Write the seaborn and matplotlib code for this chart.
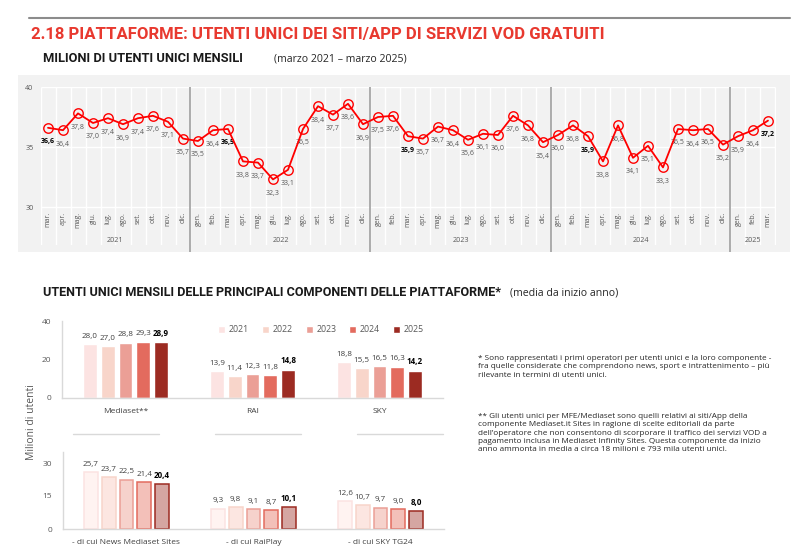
import numpy as np
import pandas as pd
import matplotlib
matplotlib.use("Agg")
import matplotlib.pyplot as plt
import seaborn as sns
from matplotlib.patches import Rectangle
from matplotlib.lines import Line2D

# --- dati: utenti unici mensili (milioni), marzo 2021 - marzo 2025 ---
nomi_mesi = ["gen.", "feb.", "mar.", "apr.", "mag.", "giu.",
             "lug.", "ago.", "set.", "ott.", "nov.", "dic."]
anni_linea = ["2021", "2022", "2023", "2024", "2025"]
mesi_per_anno = [10, 12, 12, 12, 3]
mesi = nomi_mesi[2:] + nomi_mesi * 3 + nomi_mesi[:3]

utenti = [36.6, 36.4, 37.8, 37.0, 37.4, 36.9, 37.4, 37.6, 37.1, 35.7,
          35.5, 36.4, 36.5, 33.8, 33.7, 32.3, 33.1, 36.5, 38.4, 37.7, 38.6, 36.9,
          37.5, 37.6, 35.9, 35.7, 36.7, 36.4, 35.6, 36.1, 36.0, 37.6, 36.8, 35.4,
          36.0, 36.8, 35.9, 33.8, 36.8, 34.1, 35.1, 33.3, 36.5, 36.4, 36.5, 35.2,
          35.9, 36.4, 37.2]

# --- dati: principali componenti (media da inizio anno) ---
anni = ["2021", "2022", "2023", "2024", "2025"]
operatori = ["Mediaset**", "RAI", "SKY"]
componenti = ["- di cui News Mediaset Sites", "- di cui RaiPlay", "- di cui SKY TG24"]
mediaset_tot = [28.0, 27.0, 28.8, 29.3, 28.9]
rai_tot = [13.9, 11.4, 12.3, 11.8, 14.8]
sky_tot = [18.8, 15.5, 16.5, 16.3, 14.2]
news_mediaset = [25.7, 23.7, 22.5, 21.4, 20.4]
raiplay = [9.3, 9.8, 9.1, 8.7, 10.1]
skytg24 = [12.6, 10.7, 9.7, 9.0, 8.0]

colori = ["#fce3e2", "#f8d5ca", "#eb9f96", "#e36b5e", "#9c2b22"]
chiari = ["#fff3f1", "#fce6e1", "#f6d2cc", "#f3c0b9", "#d5a6a2"]

W, H = 800, 555
HEAD = ["Roboto", "DejaVu Sans"]
GRIGIO = "#595959"


def box(x0, y0, x1, y1):
    return [x0 / W, 1 - y1 / H, (x1 - x0) / W, (y1 - y0) / H]


def virgola(v):
    return f"{v:.1f}".replace(".", ",")


sns.set_theme(style="white")
plt.rcParams["font.family"] = ["Open Sans", "DejaVu Sans"]

fig = plt.figure(figsize=(8, 5.55), dpi=100)

# intestazione
fig.add_artist(Line2D([29 / W, 790 / W], [1 - 18 / H] * 2, color="#8c8c8c", lw=1.5))
fig.text(31 / W, 1 - 34 / H, "2.18 PIATTAFORME: UTENTI UNICI DEI SITI/APP DI SERVIZI VOD GRATUITI",
         color="#e8392f", fontsize=12.1, weight="bold", family=HEAD, va="center")
fig.text(43 / W, 1 - 59 / H, "MILIONI DI UTENTI UNICI MENSILI", fontsize=9.3,
         weight="bold", family=HEAD, va="center", color="#1a1a1a")
fig.text(274 / W, 1 - 59 / H, "(marzo 2021 \u2013 marzo 2025)", fontsize=7.6,
         va="center", color="#262626")

# --- grafico a linee ---
fig.add_artist(Rectangle((18 / W, 1 - 252 / H), 772 / W, 177 / H, transform=fig.transFigure,
                         facecolor="#f2f2f2", edgecolor="none", zorder=-1))
ax1 = fig.add_axes(box(40.5, 87, 775.5, 245))
ax1.set_facecolor("#f2f2f2")


def y_at(px):
    return 40 - (px - 87) / 12


n = len(utenti)
df_linea = pd.DataFrame({"pos": np.arange(n), "utenti": utenti})
sns.lineplot(data=df_linea, x="pos", y="utenti", ax=ax1, color="#ff0000", lw=1.3,
             marker="o", markersize=6.8, markerfacecolor="none",
             markeredgecolor="#ff0000", markeredgewidth=1.0, zorder=4)

ax1.vlines(np.arange(n + 1) - 0.5, y_at(245), 40, colors="white", lw=1, zorder=1)
ax1.hlines([30, 35, 40], -0.5, n - 0.5, colors="white", lw=1, zorder=1)
confini = np.cumsum(mesi_per_anno)[:-1] - 0.5
ax1.vlines(confini, y_at(252), 40, colors="#a6a6a6", lw=1.3, clip_on=False, zorder=2)

for i, m in enumerate(mesi):
    ax1.text(i, y_at(212), m, rotation=90, ha="center", va="top", fontsize=5, color=GRIGIO)
inizio = 0
for anno, k in zip(anni_linea, mesi_per_anno):
    ax1.text(inizio + (k - 1) / 2, y_at(241), anno, ha="center", va="center",
             fontsize=5.2, color=GRIGIO)
    inizio += k

for i, v in enumerate(utenti):
    marzo = mesi[i] == "mar."
    ax1.annotate(virgola(v), (i, v), xytext=(0, -10), textcoords="offset points",
                 ha="center", va="center", fontsize=5,
                 color="black" if marzo else GRIGIO, weight="bold" if marzo else "normal")

ax1.set_xlim(-0.5, n - 0.5)
ax1.set_ylim(y_at(245), 40)
ax1.set_xticks([])
ax1.set_yticks([30, 35, 40])
ax1.tick_params(axis="y", length=0, labelsize=5.2, labelcolor=GRIGIO, pad=5)
ax1.set_xlabel("")
ax1.set_ylabel("")
sns.despine(ax=ax1, left=True, bottom=True)

# --- grafico a barre ---
fig.text(43 / W, 1 - 293 / H,
         "UTENTI UNICI MENSILI DELLE PRINCIPALI COMPONENTI DELLE PIATTAFORME*",
         fontsize=9.1, weight="bold", family=HEAD, va="center", color="#1a1a1a")
fig.text(510 / W, 1 - 293 / H, "(media da inizio anno)", fontsize=7.6, va="center",
         color="#262626")

df_top = pd.DataFrame({"gruppo": np.repeat(operatori, len(anni)), "anno": anni * 3,
                       "valore": mediaset_tot + rai_tot + sky_tot})
df_bot = pd.DataFrame({"gruppo": np.repeat(componenti, len(anni)), "anno": anni * 3,
                       "valore": news_mediaset + raiplay + skytg24})

ax2 = fig.add_axes(box(62, 321, 443, 398))
ax3 = fig.add_axes(box(63, 452, 444, 529))

sns.barplot(data=df_top, x="gruppo", y="valore", hue="anno", palette=colori, width=0.7,
            gap=0.22, saturation=1, errorbar=None, ax=ax2)
sns.barplot(data=df_bot, x="gruppo", y="valore", hue="anno", palette=chiari, width=0.7,
            gap=0.22, saturation=1, errorbar=None, ax=ax3, legend=False)
for cont, ec in zip(ax3.containers, colori):
    for p in cont:
        p.set_edgecolor(ec)
        p.set_linewidth(1.1)

for ax, lim, ticks in [(ax2, 40, [0, 20, 40]), (ax3, 35, [0, 15, 30])]:
    for k, cont in enumerate(ax.containers):
        ultimo = k == len(ax.containers) - 1
        ax.bar_label(cont, labels=[virgola(v) for v in cont.datavalues], padding=3,
                     fontsize=5.8, color="black" if ultimo else "#404040",
                     weight="bold" if ultimo else "normal")
    ax.set_ylim(0, lim)
    ax.set_yticks(ticks)
    ax.set_xticks([0.5, 1.5], minor=True)
    ax.tick_params(axis="y", length=0, labelsize=6, labelcolor=GRIGIO, pad=8)
    ax.tick_params(axis="x", which="major", length=0, labelsize=6, labelcolor="#404040", pad=7)
    ax.tick_params(axis="x", which="minor", direction="in", length=4, color="#d9d9d9", width=1)
    ax.set_xlabel("")
    ax.set_ylabel("")
    sns.despine(ax=ax)
    for s in ("left", "bottom"):
        ax.spines[s].set_color("#d9d9d9")
        ax.spines[s].set_linewidth(1)

sns.move_legend(ax2, "center", bbox_to_anchor=(0.68, 0.885), ncol=5, frameon=False,
                title=None, fontsize=6.3, labelcolor=GRIGIO, handlelength=0.8,
                handleheight=0.8, handletextpad=0.4, columnspacing=1.5)

for x0, x1 in [(73, 159), (215, 301), (357, 443)]:
    fig.add_artist(Line2D([x0 / W, x1 / W], [1 - 434 / H] * 2, color="#d9d9d9", lw=1))

fig.text(32 / W, 1 - 422 / H, "Milioni di utenti", rotation=90, ha="center", va="center",
         fontsize=7.5, color=GRIGIO)

# --- note ---
nota1 = ("* Sono rappresentati i primi operatori per utenti unici e la loro componente -\n"
         "fra quelle considerate che comprendono news, sport e intrattenimento \u2013 pi\u00f9\n"
         "rilevante in termini di utenti unici.")
nota2 = ("** Gli utenti unici per MFE/Mediaset sono quelli relativi ai siti/App della\n"
         "componente Mediaset.it Sites in ragione di scelte editoriali da parte\n"
         "dell\u2019operatore che non consentono di scorporare il traffico dei servizi VOD a\n"
         "pagamento inclusa in Mediaset Infinity Sites. Questa componente da inizio\n"
         "anno ammonta in media a circa 18 milioni e 793 mila utenti unici.")
fig.text(478 / W, 1 - 355 / H, nota1, fontsize=5.9, va="top", linespacing=1.26, color="#262626")
fig.text(478 / W, 1 - 413 / H, nota2, fontsize=5.9, va="top", linespacing=1.26, color="#262626")

fig.savefig("out.png", dpi=100, facecolor="white")
